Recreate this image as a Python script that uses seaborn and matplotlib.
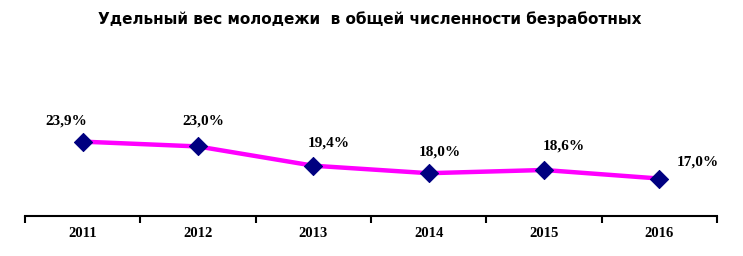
import matplotlib
matplotlib.use("Agg")
import matplotlib.pyplot as plt
import seaborn as sns
import numpy as np
import pandas as pd
from matplotlib.ticker import FixedLocator

years = ["2011", "2012", "2013", "2014", "2015", "2016"]
values = [23.9, 23.0, 19.4, 18.0, 18.6, 17.0]
labels = ["23,9%", "23,0%", "19,4%", "18,0%", "18,6%", "17,0%"]
label_offsets = [(-12, 15), (4, 18), (11, 16), (8, 15), (14, 17), (28, 12)]

sns.set_theme(style="white")
plt.rcParams['font.family'] = ['DejaVu Sans']
plt.rcParams['text.color'] = 'black'
plt.rcParams['xtick.color'] = 'black'

df = pd.DataFrame({"pos": np.arange(len(years)), "value": values})

fig = plt.figure(figsize=(7.43, 2.56), dpi=100)
ax = fig.add_axes([25/743, 1-216/256, (717-25)/743, (216-109)/256])

sns.lineplot(data=df, x="pos", y="value", ax=ax, color="#FF00FF", linewidth=3.2, zorder=2)
sns.scatterplot(data=df, x="pos", y="value", ax=ax, marker="D", s=85, color="#000080",
                edgecolor="#000080", zorder=3)

for xi, v, lab, off in zip(df["pos"], values, labels, label_offsets):
    ax.annotate(lab, xy=(xi, v), xytext=off, textcoords="offset points",
                ha="center", va="center", fontsize=11, fontweight="bold",
                family="Liberation Serif", color="black")

ax.set_xlim(-0.5, len(years) - 0.5)
ax.set_ylim(10, 30)
ax.set_xticks(np.arange(len(years)))
ax.set_xticklabels(years, fontsize=10.5, fontweight="bold", family="Liberation Serif", color="black")
ax.xaxis.set_minor_locator(FixedLocator(np.arange(-0.5, len(years), 1.0)))
ax.tick_params(axis="x", which="major", length=0, pad=8)
ax.tick_params(axis="x", which="minor", length=5, width=1.5, color="black", direction="out", bottom=True)
ax.set_yticks([])
ax.set_xlabel("")
ax.set_ylabel("")
for s in ["top", "right", "left"]:
    ax.spines[s].set_visible(False)
ax.spines["bottom"].set_color("black")
ax.spines["bottom"].set_linewidth(1.5)
ax.patch.set_alpha(0)

fig.text(370/743, 1-19/256, "Удельный вес молодежи  в общей численности безработных",
         ha="center", va="center", fontsize=11, fontweight="bold", color="black")

fig.savefig("out.png", dpi=100, facecolor="white")
